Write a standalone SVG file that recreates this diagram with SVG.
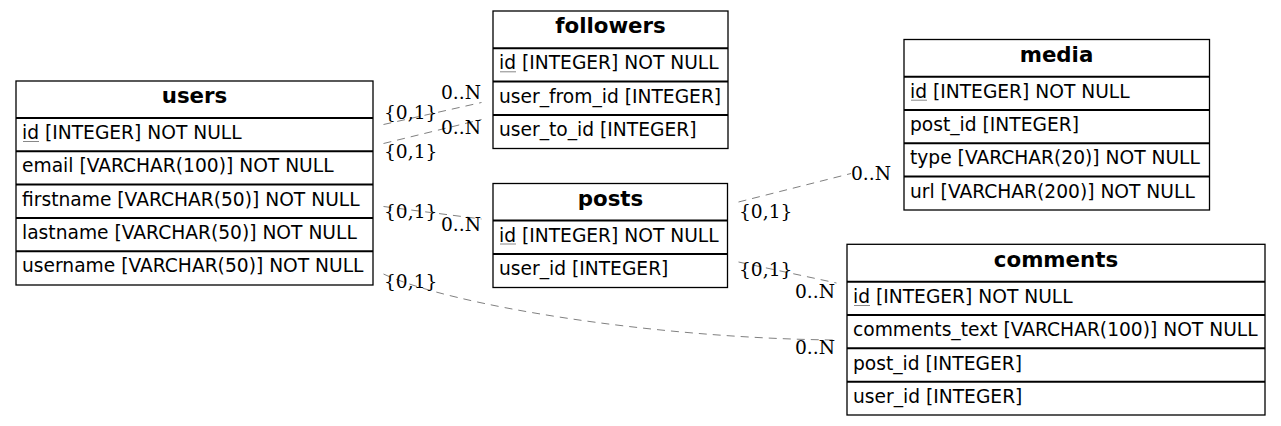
<svg xmlns="http://www.w3.org/2000/svg" width="1281" height="426" viewBox="0 0 1281 426">
<style>
.box{fill:#fff;stroke:#000;stroke-width:1.3}
.sep{stroke:#000;stroke-width:2}
.title{font-family:"DejaVu Sans",sans-serif;font-weight:bold;font-size:21.33px;text-anchor:middle;fill:#000}
.row{font-family:"DejaVu Sans",sans-serif;font-size:18.67px;fill:#000}
.ul{stroke:#888;stroke-width:1}
.edge{fill:none;stroke:#808080;stroke-width:1;stroke-dasharray:8,6}
.lbl{font-family:"DejaVu Serif",serif;font-size:18.67px;fill:#000}
.end{text-anchor:end}
</style>
<rect width="1281" height="426" fill="#fff"/>
<g id="connectors">
<path class="edge" d="M383.5,124.5 L481.5,102.5"/>
<path class="edge" d="M383.5,143.5 L481.5,119.5"/>
<path class="edge" d="M383.5,206.5 L481.5,219"/>
<path class="edge" d="M383.5,274 C450,305 650,338 834,340"/>
<path class="edge" d="M738.5,202 L851,173.5"/>
<path class="edge" d="M738.5,262 L836.5,283"/>
<text class="lbl" x="384" y="119">{0,1}</text>
<text class="lbl end" x="481" y="98.5">0..N</text>
<text class="lbl" x="384" y="157.5">{0,1}</text>
<text class="lbl end" x="481" y="133.5">0..N</text>
<text class="lbl" x="384" y="217.5">{0,1}</text>
<text class="lbl end" x="481" y="231">0..N</text>
<text class="lbl" x="384" y="287.5">{0,1}</text>
<text class="lbl end" x="835" y="354">0..N</text>
<text class="lbl" x="739" y="217.5">{0,1}</text>
<text class="lbl end" x="891" y="180">0..N</text>
<text class="lbl" x="739" y="276">{0,1}</text>
<text class="lbl end" x="835" y="297.5">0..N</text>
</g>
<g id="users">
<rect class="box" x="16" y="81" width="357" height="204"/>
<line class="sep" x1="16" y1="118" x2="373" y2="118"/>
<line class="sep" x1="16" y1="151.3" x2="373" y2="151.3"/>
<line class="sep" x1="16" y1="184.6" x2="373" y2="184.6"/>
<line class="sep" x1="16" y1="218" x2="373" y2="218"/>
<line class="sep" x1="16" y1="251.3" x2="373" y2="251.3"/>
<text class="title" x="194.5" y="103">users</text>
<text class="row" x="22" y="139">id [INTEGER] NOT NULL</text>
<line class="ul" x1="23" y1="141.5" x2="39" y2="141.5"/>
<text class="row" x="22" y="172.3">email [VARCHAR(100)] NOT NULL</text>
<text class="row" x="22" y="205.6">firstname [VARCHAR(50)] NOT NULL</text>
<text class="row" x="22" y="239">lastname [VARCHAR(50)] NOT NULL</text>
<text class="row" x="22" y="272.3">username [VARCHAR(50)] NOT NULL</text>
</g>
<g id="followers">
<rect class="box" x="493" y="11" width="235" height="137.5"/>
<line class="sep" x1="493" y1="48.3" x2="728" y2="48.3"/>
<line class="sep" x1="493" y1="81.6" x2="728" y2="81.6"/>
<line class="sep" x1="493" y1="115" x2="728" y2="115"/>
<text class="title" x="610.5" y="33">followers</text>
<text class="row" x="499" y="69.3">id [INTEGER] NOT NULL</text>
<line class="ul" x1="500" y1="71.8" x2="516" y2="71.8"/>
<text class="row" x="499" y="102.6">user_from_id [INTEGER]</text>
<text class="row" x="499" y="136">user_to_id [INTEGER]</text>
</g>
<g id="posts">
<rect class="box" x="493" y="183.5" width="234.5" height="104"/>
<line class="sep" x1="493" y1="220.5" x2="727.5" y2="220.5"/>
<line class="sep" x1="493" y1="254" x2="727.5" y2="254"/>
<text class="title" x="610.5" y="206">posts</text>
<text class="row" x="499" y="241.5">id [INTEGER] NOT NULL</text>
<line class="ul" x1="500" y1="244" x2="516" y2="244"/>
<text class="row" x="499" y="275">user_id [INTEGER]</text>
</g>
<g id="media">
<rect class="box" x="904" y="39.5" width="305.5" height="170.5"/>
<line class="sep" x1="904" y1="76.7" x2="1209.5" y2="76.7"/>
<line class="sep" x1="904" y1="110" x2="1209.5" y2="110"/>
<line class="sep" x1="904" y1="143.3" x2="1209.5" y2="143.3"/>
<line class="sep" x1="904" y1="176.6" x2="1209.5" y2="176.6"/>
<text class="title" x="1056.5" y="61.5">media</text>
<text class="row" x="910" y="97.7">id [INTEGER] NOT NULL</text>
<line class="ul" x1="911" y1="100.2" x2="927" y2="100.2"/>
<text class="row" x="910" y="131">post_id [INTEGER]</text>
<text class="row" x="910" y="164.3">type [VARCHAR(20)] NOT NULL</text>
<text class="row" x="910" y="197.6">url [VARCHAR(200)] NOT NULL</text>
</g>
<g id="comments">
<rect class="box" x="847" y="244.3" width="418" height="170.7"/>
<line class="sep" x1="847" y1="281.7" x2="1265" y2="281.7"/>
<line class="sep" x1="847" y1="315" x2="1265" y2="315"/>
<line class="sep" x1="847" y1="348.3" x2="1265" y2="348.3"/>
<line class="sep" x1="847" y1="381.7" x2="1265" y2="381.7"/>
<text class="title" x="1056" y="266.5">comments</text>
<text class="row" x="853" y="303">id [INTEGER] NOT NULL</text>
<line class="ul" x1="854" y1="305.5" x2="870" y2="305.5"/>
<text class="row" x="853" y="336.3">comments_text [VARCHAR(100)] NOT NULL</text>
<text class="row" x="853" y="369.6">post_id [INTEGER]</text>
<text class="row" x="853" y="403">user_id [INTEGER]</text>
</g>
</svg>
